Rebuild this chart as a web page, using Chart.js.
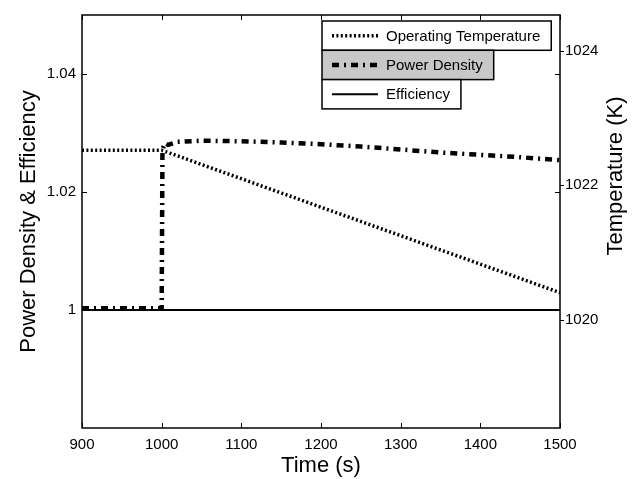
<!DOCTYPE html>
<html><head><meta charset="utf-8">
<script src="https://cdn.jsdelivr.net/npm/chart.js@4/dist/chart.umd.min.js"></script>
<style>html,body{margin:0;padding:0;background:#fff;} canvas{display:block;}</style>
</head><body>
<canvas id="c" width="636" height="479"></canvas>
<script>
// ---- data ----
const tempTime   = [900, 1000, 1500];
const tempValues = [1022.52, 1022.52, 1020.40];
const powerTime   = [900, 1000, 1001, 1004, 1008, 1020, 1050, 1100, 1150, 1200, 1250, 1300, 1350, 1400, 1450, 1500];
const powerValues = [1.0003, 1.0003, 1.0272, 1.0283, 1.0280, 1.0285, 1.0287, 1.0286, 1.0284, 1.0281, 1.0277, 1.0272, 1.0267, 1.0263, 1.0259, 1.0254];
const effTime   = [900, 1500];
const effValues = [1, 1];
const xTicks = [900, 1000, 1100, 1200, 1300, 1400, 1500];
const leftTicks = [1, 1.02, 1.04];
const leftTickLabels = ['1', '1.02', '1.04'];
const rightTicks = [1020, 1022, 1024];
const rightTickLabels = ['1020', '1022', '1024'];
const seriesNames = ['Operating Temperature', 'Power Density', 'Efficiency'];
const xTitle = 'Time (s)';
const leftTitle = 'Power Density & Efficiency';
const rightTitle = 'Temperature (K)';

const FONT = "'Liberation Sans', Arial, Helvetica, sans-serif";
const zip = (xs, ys) => xs.map((x, i) => ({x, y: ys[i]}));

const styles = [
  {borderDash: [2, 2.4], borderWidth: 3.5, fill: '#ffffff'},
  {borderDash: [7, 5, 2, 5], borderWidth: 4.5, fill: '#c8c8c8'},
  {borderDash: [], borderWidth: 2, fill: '#ffffff'}
];

const decor = {
  id: 'decor',
  afterDatasetsDraw(chart) {
    const ctx = chart.ctx;
    const a = chart.chartArea;
    const xs = chart.scales.x, ys = chart.scales.y, y2 = chart.scales.y2;
    ctx.save();
    ctx.strokeStyle = '#000';
    ctx.lineWidth = 1.5;
    ctx.setLineDash([]);
    // frame
    ctx.strokeRect(a.left, a.top, a.right - a.left, a.bottom - a.top);
    ctx.lineWidth = 1;
    ctx.beginPath();
    xTicks.forEach(v => {
      const px = Math.round(xs.getPixelForValue(v)) + 0.5;
      ctx.moveTo(px, a.bottom); ctx.lineTo(px, a.bottom - 5);
      ctx.moveTo(px, a.top); ctx.lineTo(px, a.top + 5);
    });
    leftTicks.forEach(v => {
      const py = Math.round(ys.getPixelForValue(v)) + 0.5;
      ctx.moveTo(a.left, py); ctx.lineTo(a.left + 5, py);
      ctx.moveTo(a.right, py); ctx.lineTo(a.right - 5, py);
    });
    rightTicks.forEach(v => {
      const py = Math.round(y2.getPixelForValue(v)) + 0.5;
      ctx.moveTo(a.right, py); ctx.lineTo(a.right + 4, py);
    });
    ctx.stroke();

    // legend (each entry boxed, stacked)
    ctx.font = '15px ' + FONT;
    const lx = 322, ly0 = 21, rowH = 29.3;
    chart.data.datasets.forEach((ds, i) => {
      const top = ly0 + i * rowH;
      const tw = ctx.measureText(ds.label).width;
      const right = 386 + tw + 11;
      ctx.fillStyle = styles[i].fill;
      ctx.fillRect(lx, top, right - lx, rowH);
      ctx.lineWidth = 1.5;
      ctx.setLineDash([]);
      ctx.strokeStyle = '#000';
      ctx.strokeRect(lx, top, right - lx, rowH);
      const cy = top + rowH / 2;
      ctx.beginPath();
      ctx.lineWidth = ds.borderWidth;
      ctx.setLineDash(ds.borderDash);
      ctx.moveTo(332, cy); ctx.lineTo(378, cy);
      ctx.stroke();
      ctx.setLineDash([]);
      ctx.fillStyle = '#000';
      ctx.textAlign = 'left';
      ctx.textBaseline = 'middle';
      ctx.fillText(ds.label, 386, cy + 1);
    });

    // right axis title, reading bottom-to-top
    ctx.save();
    ctx.translate(616, 176);
    ctx.rotate(-Math.PI / 2);
    ctx.font = '22px ' + FONT;
    ctx.fillStyle = '#000';
    ctx.textAlign = 'center';
    ctx.textBaseline = 'middle';
    ctx.fillText(rightTitle, 0, 0);
    ctx.restore();
    ctx.restore();
  }
};

new Chart(document.getElementById('c'), {
  type: 'line',
  data: {
    datasets: [
      {label: seriesNames[0], data: zip(tempTime, tempValues), yAxisID: 'y2',
       borderColor: '#000', borderWidth: styles[0].borderWidth, borderDash: styles[0].borderDash,
       pointRadius: 0, tension: 0, borderCapStyle: 'butt'},
      {label: seriesNames[1], data: zip(powerTime, powerValues), yAxisID: 'y',
       borderColor: '#000', borderWidth: styles[1].borderWidth, borderDash: styles[1].borderDash,
       pointRadius: 0, tension: 0, borderCapStyle: 'butt'},
      {label: seriesNames[2], data: zip(effTime, effValues), yAxisID: 'y',
       borderColor: '#000', borderWidth: styles[2].borderWidth, borderDash: styles[2].borderDash,
       pointRadius: 0, tension: 0}
    ]
  },
  options: {
    responsive: false,
    animation: false,
    devicePixelRatio: 1,
    layout: {padding: {top: 13, left: 0, right: 0, bottom: 0}},
    plugins: {legend: {display: false}, tooltip: {enabled: false}},
    scales: {
      x: {
        type: 'linear', position: 'bottom', min: 900, max: 1500,
        afterFit: s => { s.height = 51; },
        afterBuildTicks: s => { s.ticks = xTicks.map(v => ({value: v})); },
        grid: {display: false, drawTicks: false}, border: {display: false},
        ticks: {color: '#000', font: {size: 15, family: FONT}, padding: 8, maxRotation: 0,
                callback: (v) => String(v)},
        title: {display: true, text: xTitle, color: '#000', font: {size: 22, family: FONT},
                padding: {top: 0, bottom: 0}}
      },
      y: {
        type: 'linear', position: 'left', min: 0.98, max: 1.05,
        afterFit: s => { s.width = 82; },
        afterBuildTicks: s => { s.ticks = leftTicks.map(v => ({value: v})); },
        grid: {display: false, drawTicks: false}, border: {display: false},
        ticks: {color: '#000', font: {size: 15, family: FONT}, padding: 6,
                callback: (v, i) => leftTickLabels[i]},
        title: {display: true, text: leftTitle, color: '#000', font: {size: 22, family: FONT},
                padding: {top: 16, bottom: 0}}
      },
      y2: {
        type: 'linear', position: 'right', min: 1018.385, max: 1024.533,
        afterFit: s => { s.width = 76; },
        afterBuildTicks: s => { s.ticks = rightTicks.map(v => ({value: v})); },
        grid: {display: false, drawTicks: false}, border: {display: false},
        ticks: {color: '#000', font: {size: 15, family: FONT}, padding: 5,
                callback: (v, i) => rightTickLabels[i]}
      }
    }
  },
  plugins: [decor]
});
</script>
</body></html>
